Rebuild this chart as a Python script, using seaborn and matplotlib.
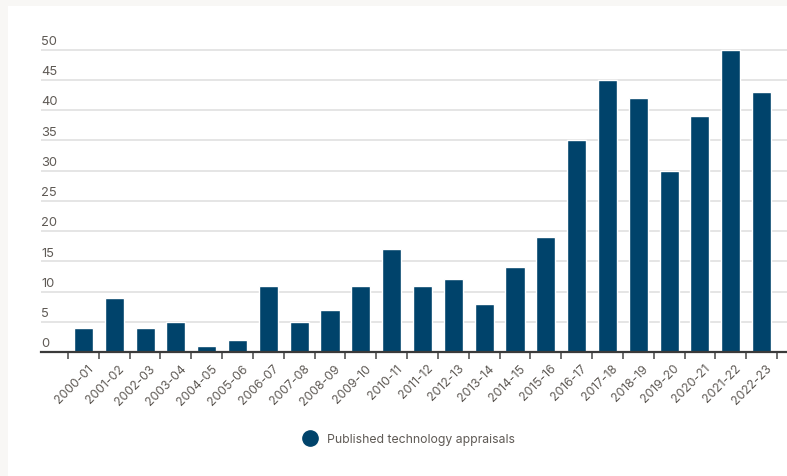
import matplotlib
matplotlib.use("Agg")
import matplotlib.pyplot as plt
from matplotlib.patches import Rectangle
from matplotlib.lines import Line2D
from matplotlib.ticker import FixedLocator
import matplotlib.transforms as mtransforms
import numpy as np
import pandas as pd
import seaborn as sns

years = ["2000-01", "2001-02", "2002-03", "2003-04", "2004-05", "2005-06",
         "2006-07", "2007-08", "2008-09", "2009-10", "2010-11", "2011-12",
         "2012-13", "2013-14", "2014-15", "2015-16", "2016-17", "2017-18",
         "2018-19", "2019-20", "2020-21", "2021-22", "2022-23"]
appraisals = [4, 9, 4, 5, 1, 2, 11, 5, 7, 11, 17, 11, 12, 8, 14, 19, 35, 45,
              42, 30, 39, 50, 43]
y_ticks = [0, 5, 10, 15, 20, 25, 30, 35, 40, 45, 50]
series_name = "Published technology appraisals"

BAR = "#00436b"
TEXT = "#5f5a55"
GRID = "#e3e3e3"

sns.set_theme(style="white")
plt.rcParams["font.family"] = ["Inter", "DejaVu Sans"]

df = pd.DataFrame({"year": years, "count": appraisals})

W, H = 787, 477
fig = plt.figure(figsize=(W / 100, H / 100), dpi=100)
fig.patch.set_facecolor("#f8f7f5")
fig.patches.append(Rectangle((8 / W, 0), 1, 1 - 7 / H, transform=fig.transFigure,
                             facecolor="white", edgecolor="none", zorder=-10))

left, bottom = 41 / W, 1 - 353 / H
ax = fig.add_axes([left, bottom, 1 - left, (353 - 20) / H])
ax.set_facecolor("none")

sns.barplot(data=df, x="year", y="count", order=years, color=BAR,
            saturation=1, width=0.62, ax=ax, zorder=3)

n = len(years)
ax.set_xlim(-1.376, n - 0.5 + 10 / 30.83)
ax.set_ylim(0, 55.1)

for s in ["top", "right", "left"]:
    ax.spines[s].set_visible(False)
ax.spines["bottom"].set_color("#3a3a3a")
ax.spines["bottom"].set_linewidth(1.6)
ax.spines["bottom"].set_zorder(4)

# horizontal gridlines
ax.set_yticks(y_ticks)
ax.yaxis.grid(True, color=GRID, linewidth=1.3, zorder=0)
ax.tick_params(axis="y", left=False, labelleft=False)
tr = mtransforms.blended_transform_factory(ax.transAxes, ax.transData)
off = mtransforms.ScaledTranslation(0, 2 / 72, fig.dpi_scale_trans)
for v in y_ticks:
    ax.text(0, v, str(v), transform=tr + off, ha="left", va="bottom",
            fontsize=9.3, color=TEXT, clip_on=False)

# category labels at bar centres, tick marks on category boundaries
ax.set_xlabel("")
ax.set_ylabel("")
ax.set_xticks(range(n))
ax.set_xticklabels(years, rotation=45, ha="right", rotation_mode="anchor",
                   fontsize=8.8, color=TEXT)
ax.tick_params(axis="x", which="major", length=0, pad=7)
ax.xaxis.set_minor_locator(FixedLocator(np.arange(-0.5, n + 0.5, 1)))
ax.tick_params(axis="x", which="minor", bottom=True, length=5, width=1.2,
               color="#555555")
for lbl in ax.get_xticklabels():
    lbl.set_transform(lbl.get_transform() +
                      mtransforms.ScaledTranslation(3 / 72, 0, fig.dpi_scale_trans))

handle = Line2D([], [], marker="o", linestyle="none", markersize=11,
                markerfacecolor=BAR, markeredgecolor=BAR)
fig.legend([handle], [series_name], loc="center", bbox_to_anchor=(406 / W, 1 - 440 / H),
           frameon=False, fontsize=8.8, labelcolor=TEXT, handletextpad=0.4)

fig.savefig("out.png", dpi=100, facecolor=fig.get_facecolor())
